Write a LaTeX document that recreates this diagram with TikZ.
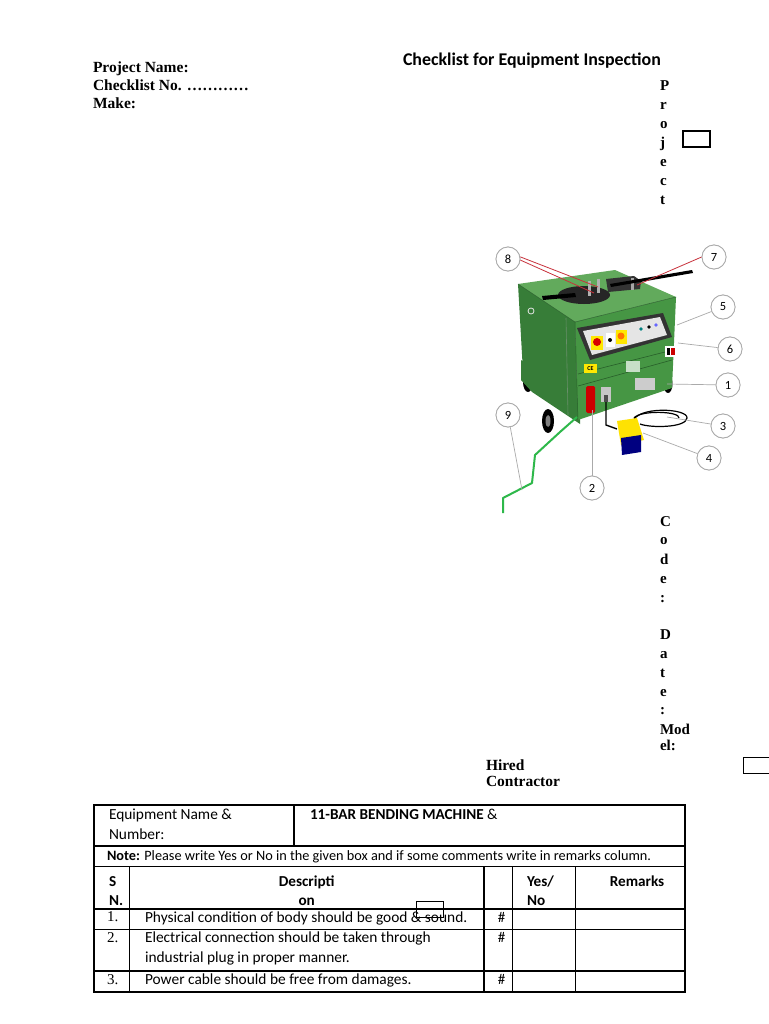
\documentclass[tikz,border=0pt]{standalone}
\usepackage{fontspec}
\setmainfont{Liberation Serif}
\newfontfamily\calfont{Carlito}
\definecolor{gtop}{RGB}{98,170,92}
\definecolor{gfront}{RGB}{70,150,68}
\definecolor{gleft}{RGB}{55,125,56}
\definecolor{gdark}{RGB}{40,95,42}
\definecolor{cable}{RGB}{46,184,74}
\definecolor{redln}{RGB}{200,50,60}
\definecolor{callgray}{RGB}{170,170,170}
\begin{document}
\begin{tikzpicture}[x=1pt,y=-1pt,
  txt/.style={anchor=base west,inner sep=0pt,outer sep=0pt},
  hdr/.style={txt,font=\fontsize{15.5}{18}\selectfont\bfseries},
  vlet/.style={txt,font=\fontsize{15}{18}\selectfont\bfseries},
  ttl/.style={txt,font=\calfont\fontsize{17.9}{21}\selectfont\bfseries},
  tb/.style={txt,font=\calfont\fontsize{15.4}{18}\selectfont},
  tbn/.style={txt,font=\calfont\fontsize{14.3}{18}\selectfont},
  tbb/.style={txt,font=\calfont\fontsize{15.2}{18}\selectfont\bfseries},
  tbc/.style={anchor=base,inner sep=0pt,font=\calfont\fontsize{15.2}{18}\selectfont\bfseries},
  hsh/.style={anchor=base,inner sep=0pt,font=\calfont\fontsize{15}{18}\selectfont},
  num/.style={txt,font=\fontsize{15}{18}\selectfont},
  boxst/.style={draw,line width=1.2pt,minimum width=27pt,minimum height=16pt,inner sep=0pt},
  callout/.style={circle,draw=callgray,line width=0.8pt,fill=white,minimum size=24pt,inner sep=0pt,font=\calfont\fontsize{12.5}{14}\selectfont},
  cline/.style={draw=callgray,line width=0.7pt},
  rline/.style={draw=redln,line width=0.8pt},
  grid/.style={line width=1.1pt}
]
\useasboundingbox (0,0) rectangle (768,1024);
\fill[white] (0,0) rectangle (768,1024);

% ---------- header ----------
\node[hdr] (pn) at (93,73) {Project Name:};
\node[hdr] (cn) at (93,91) {Checklist No. …………};
\node[hdr] (mk) at (93,109) {Make:};
\node[ttl] (tt) at (403,66) {Checklist for Equipment Inspection};

\foreach \l/\y/\n in {P/91/v1,r/110/v2,o/129/v3,j/148/v4,e/167/v5,c/186/v6,t/205/v7,
  C/526/w1,o/544.5/w2,d/564/w3,e/583/w4,:/602/w5,
  D/639.5/w6,a/658/w7,t/677/w8,e/696/w9,:/714/w10,Mod/734/w11,el:/750/w12}
  \node[vlet] (\n) at (660,\y) {\l};

\node[boxst] (pbox) at (696.5,139) {};
\node[boxst,anchor=north west] (mbox) at (743,757) {};

\node[hdr] (hr1) at (486,770.5) {Hired};
\node[hdr] (hr2) at (486,786.5) {Contractor};

% ---------- machine drawing ----------
% lower frame & wheels
\fill[black] (528,382) ellipse (5 and 10);
\fill[black] (548,421) ellipse (6 and 12);
\fill[gray] (548,421) ellipse (2.5 and 6);
\fill[black] (668,384) ellipse (4.5 and 9);
\fill[gleft] (521,360) -- (580,400) -- (580,424) -- (532,392) -- (521,380) -- cycle;
% left face
\fill[gleft] (518,284) -- (575,322) -- (578,420) -- (523,372) -- cycle;
% front face
\fill[gfront] (575,322) -- (676,297) -- (672,388) -- (578,420) -- cycle;
\draw[gdark,line width=0.6pt] (578,374) -- (673,350);
\draw[gdark,line width=0.6pt] (578,386) -- (672,360);
\draw[gdark,line width=0.5pt] (575,322) -- (578,420);
\draw[gdark!70,line width=0.6pt] (566,318) -- (568,415);
% top face
\fill[gtop] (518,284) -- (615,270) -- (676,297) -- (575,322) -- cycle;
\draw[gdark,line width=0.5pt] (518,284) -- (575,322) -- (676,297);
% corner ring
\draw[white!80!gray,line width=0.8pt] (531,311) circle (3);
% bending disk and bars
\fill[black!85] (584,295) ellipse (26 and 9);
\fill[black] (542,296) -- (575,293) -- (576,297) -- (543,300) -- cycle;
\fill[gray!60] (588,281) rectangle (591,296);
\fill[gray!60] (597,279) rectangle (600,293);
\fill[black!80] (606,279) -- (634,276) -- (641,281) -- (640,289) -- (608,292) -- cycle;
\fill[gray!70] (631,278) rectangle (634,290);
\fill[black] (610,284) -- (692,270) -- (693,273) -- (611,287) -- cycle;
% control panel
\fill[black!80] (577,328) -- (663,313) -- (672,337) -- (590,360) -- cycle;
\fill[gray!20] (583,331) -- (660,317) -- (667,335) -- (592,355) -- cycle;
\fill[yellow!90!orange] (591,336) rectangle (603,350);
\fill[red!85!black] (597,342) circle (4);
\fill[white] (606,333) rectangle (615,347);
\fill[black] (610,340) circle (2);
\fill[yellow!90!orange] (616,330) rectangle (627,344);
\fill[orange!90!red] (621,336) circle (3.5);
\fill[teal] (641,329) circle (1.8);
\fill[black] (649,327) circle (1.8);
\fill[blue!60] (656,325) circle (1.8);
% labels on front face
\fill[white] (665,346) rectangle (677,357);
\fill[red!80!black] (671,348) rectangle (675,355);
\fill[black] (667,348) rectangle (670,355);
\fill[yellow!90!orange] (584,364) rectangle (597,373);
\node[inner sep=0pt,font=\calfont\fontsize{6}{6}\selectfont\bfseries] (ce) at (590.5,368.5) {CE};
\fill[white!70!gfront] (626,361) rectangle (640,372);
\fill[gray!40] (635,378) rectangle (655,390);
% plug & socket
\fill[red!80!black,rounded corners=1.5pt] (586,386) rectangle (595,413);
\fill[gray!45] (601,387) rectangle (611,402);
\fill[black!70] (604,395) rectangle (608,402);
% black cable with loop
\draw[black,line width=1.4pt] (606,402) -- (606,425) -- (617,429);
\draw[black,line width=1.2pt] (633,422) .. controls (636,406) and (688,408) .. (687,418)
  .. controls (686,428) and (650,428) .. (640,424);
\draw[black,line width=1.2pt] (634,418) .. controls (640,410) and (680,411) .. (679,418);
% pedal
\fill[yellow!85!orange] (617,421) -- (637,418) -- (644,440) -- (621,445) -- cycle;
\fill[blue!50!black] (621,438) -- (641,435) -- (641,452) -- (622,455) -- cycle;
% green power cable
\draw[cable,line width=2pt,line join=round] (577,417) -- (560,432) -- (535,455) -- (532,483) -- (503,498) -- (503,513);

% callouts
\node[callout] (c8) at (508,259) {8};
\node[callout] (c7) at (714,257) {7};
\node[callout] (c5) at (723,307) {5};
\node[callout] (c6) at (730,349) {6};
\node[callout] (c1) at (728,385) {1};
\node[callout] (c3) at (723,426) {3};
\node[callout] (c4) at (709,458) {4};
\node[callout] (c9) at (508,415) {9};
\node[callout] (c2) at (592,488) {2};
\coordinate (t8a) at (598,287);
\coordinate (t8b) at (594,293);
\coordinate (t7) at (637,285);
\coordinate (t5) at (677,325);
\coordinate (t6) at (678,343);
\coordinate (t1) at (667,384);
\coordinate (t3) at (667,417);
\coordinate (t4) at (643,433);
\coordinate (t2) at (592,410);
\coordinate (t9) at (522,490);
\draw[rline] (c8.10) -- (t8a);
\draw[rline] (c8.-5) -- (t8b);
\draw[rline] (c7.west) -- (t7);
\draw[cline] (c5) -- (t5);
\draw[cline] (c6) -- (t6);
\draw[cline] (c1) -- (t1);
\draw[cline] (c3) -- (t3);
\draw[cline] (c4) -- (t4);
\draw[cline] (c2) -- (t2);
\draw[cline] (c9) -- (t9);
\node[callout] at (c8) {8};
\node[callout] at (c7) {7};
\node[callout] at (c5) {5};
\node[callout] at (c6) {6};
\node[callout] at (c1) {1};
\node[callout] at (c3) {3};
\node[callout] at (c4) {4};
\node[callout] at (c9) {9};
\node[callout] at (c2) {2};

% ---------- table ----------
\draw[grid] (94,805) rectangle (685,992);
\draw[grid] (94,846) -- (685,846);
\draw[grid] (94,866.7) -- (685,866.7);
\draw[grid] (94,909) -- (685,909);
\draw[grid] (94,929.3) -- (685,929.3);
\draw[grid] (94,971) -- (685,971);
\draw[grid] (294,805) -- (294,846);
\foreach \x in {129.3,484,512.3,575.7} \draw[grid] (\x,866.7) -- (\x,992);

\node[tb] (en1) at (109,819) {Equipment Name \&};
\node[tb] (en2) at (109,839) {Number:};
\node[tbb] (bb) at (310,819) {11-BAR BENDING MACHINE \textmd{\&}};
\node[tbn] (note) at (107,860.5) {\textbf{Note:} Please write Yes or No in the given box and if some comments write in remarks column.};
\node[tbb] (sn1) at (109,886) {S};
\node[tbb] (sn2) at (109,905) {N.};
\node[tbc] (de1) at (306.7,886) {Descripti};
\node[tbc] (de2) at (306.7,905) {on};
\node[tbb] (yn1) at (527,886) {Yes/};
\node[tbb] (yn2) at (527,905) {No};
\node[tbc] (rm) at (637,886) {Remarks};
\node[num] (n1) at (107,921.5) {1.};
\node[num] (n2) at (107,942) {2.};
\node[num] (n3) at (107,984) {3.};
\node[tb] (r1) at (145,922) {Physical condition of body should be good \& sound.};
\node[tb] (r2a) at (145,942) {Electrical connection should be taken through};
\node[tb] (r2b) at (145,962) {industrial plug in proper manner.};
\node[tb] (r3) at (145,984) {Power cable should be free from damages.};
\node[hsh] (h1) at (501.7,922) {\#};
\node[hsh] (h2) at (501.7,942) {\#};
\node[hsh] (h3) at (501.7,984) {\#};
\node[boxst,anchor=north west,line width=1.1pt,minimum width=26.7pt,minimum height=16pt] (dbox) at (416,901) {};
\end{tikzpicture}
\end{document}
